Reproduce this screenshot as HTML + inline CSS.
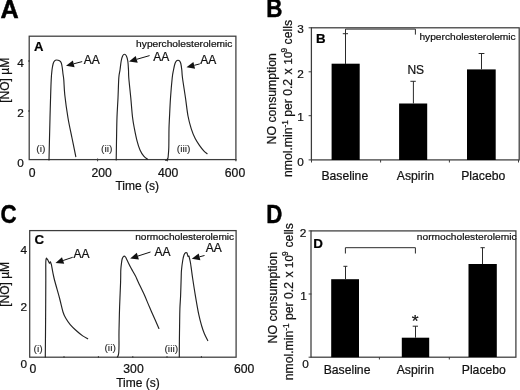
<!DOCTYPE html>
<html><head><meta charset="utf-8"><title>Figure</title>
<style>
html,body{margin:0;padding:0;background:#fff;}
body{width:520px;height:390px;overflow:hidden;font-family:"Liberation Sans", sans-serif;}
svg{display:block;font-family:"Liberation Sans", sans-serif;will-change:transform;}
text{stroke:#111;stroke-width:0.22px;}
text.big{stroke:#000;stroke-width:0.45px;}
text.rom{stroke:#2c2c2c;stroke-width:0.12px;}
</style></head><body>
<svg width="520" height="390" viewBox="0 0 520 390">
<rect x="0" y="0" width="520" height="390" fill="#fff"/>
<text transform="translate(0.6,17.7) scale(1.03,1.03)" class="big" font-size="24.5" font-weight="bold" fill="#000">A</text>
<text transform="translate(266.2,17.4) scale(0.915,1.03)" class="big" font-size="24.5" font-weight="bold" fill="#000">B</text>
<text transform="translate(0.45,222.5) scale(0.91,1.035)" class="big" font-size="24.5" font-weight="bold" fill="#000">C</text>
<text transform="translate(266.2,222.9) scale(0.91,1.02)" class="big" font-size="24.5" font-weight="bold" fill="#000">D</text>
<rect x="29.2" y="36.2" width="206.7" height="123.4" fill="none" stroke="#3c3c3c" stroke-width="1.25"/>
<text x="33.9" y="50.8" font-size="13.1" text-anchor="start" font-weight="bold" fill="#000" >A</text>
<text transform="translate(232.4,47.1) scale(1,0.95)" font-size="10.2" text-anchor="end" fill="#111">hypercholesterolemic</text>
<text x="23.9" y="67" font-size="11.8" text-anchor="end" font-weight="normal" fill="#111" >4</text>
<text x="23.9" y="116.8" font-size="11.8" text-anchor="end" font-weight="normal" fill="#111" >2</text>
<text x="23.9" y="166.5" font-size="11.8" text-anchor="end" font-weight="normal" fill="#111" >0</text>
<text x="32.1" y="176.8" font-size="12.2" text-anchor="middle" font-weight="normal" fill="#111" >0</text>
<text x="101.65" y="176.8" font-size="12.2" text-anchor="middle" font-weight="normal" fill="#111" >200</text>
<text x="168.1" y="176.8" font-size="12.2" text-anchor="middle" font-weight="normal" fill="#111" >400</text>
<text x="235" y="176.8" font-size="12.2" text-anchor="middle" font-weight="normal" fill="#111" >600</text>
<line x1="97.6" y1="158.5" x2="97.6" y2="161.3" stroke="#3c3c3c" stroke-width="1"/>
<line x1="167.4" y1="158.5" x2="167.4" y2="161.3" stroke="#3c3c3c" stroke-width="1"/>
<line x1="235.9" y1="159" x2="235.9" y2="161.3" stroke="#3c3c3c" stroke-width="1.25"/>
<line x1="28" y1="61" x2="30" y2="61" stroke="#3c3c3c" stroke-width="1"/>
<line x1="28" y1="111" x2="30" y2="111" stroke="#3c3c3c" stroke-width="1"/>
<text x="137.2" y="190" font-size="12" text-anchor="middle" font-weight="normal" fill="#111" >Time (s)</text>
<text transform="translate(9.2,80.3) rotate(-90)" font-size="12" text-anchor="middle" fill="#111">[NO] µM</text>
<path d="M49.00,160.00 C49.08,156.33 49.33,145.00 49.50,138.00 C49.67,131.00 49.83,124.33 50.00,118.00 C50.17,111.67 50.30,106.33 50.50,100.00 C50.70,93.67 50.95,85.00 51.20,80.00 C51.45,75.00 51.67,72.75 52.00,70.00 C52.33,67.25 52.77,65.03 53.20,63.50 C53.63,61.97 54.05,61.38 54.60,60.80 C55.15,60.22 55.68,60.00 56.50,60.00 C57.32,60.00 58.70,60.30 59.50,60.80 C60.30,61.30 60.83,61.80 61.30,63.00 C61.77,64.20 62.02,66.17 62.30,68.00 C62.58,69.83 62.75,72.00 63.00,74.00 C63.25,76.00 63.50,76.50 63.80,80.00 C64.10,83.50 64.10,88.67 64.80,95.00 C65.50,101.33 66.80,110.83 68.00,118.00 C69.20,125.17 70.70,131.55 72.00,138.00 C73.30,144.45 75.17,153.58 75.80,156.70" fill="none" stroke="#222" stroke-width="1.15" stroke-linejoin="round" stroke-linecap="round"/>
<path d="M116.20,160.00 C116.25,156.83 116.37,148.17 116.50,141.00 C116.63,133.83 116.75,124.17 117.00,117.00 C117.25,109.83 117.70,104.50 118.00,98.00 C118.30,91.50 118.47,82.67 118.80,78.00 C119.13,73.33 119.60,72.83 120.00,70.00 C120.40,67.17 120.77,63.33 121.20,61.00 C121.63,58.67 122.05,57.13 122.60,56.00 C123.15,54.87 123.87,54.20 124.50,54.20 C125.13,54.20 125.85,54.87 126.40,56.00 C126.95,57.13 127.45,58.67 127.80,61.00 C128.15,63.33 128.33,67.17 128.50,70.00 C128.67,72.83 128.42,73.33 128.80,78.00 C129.18,82.67 130.18,91.50 130.80,98.00 C131.42,104.50 131.90,111.90 132.50,117.00 C133.10,122.10 133.63,124.58 134.40,128.60 C135.17,132.62 136.17,137.53 137.10,141.10 C138.03,144.67 138.88,147.48 140.00,150.00 C141.12,152.52 142.53,154.65 143.80,156.20 C145.07,157.75 146.97,158.78 147.60,159.30" fill="none" stroke="#222" stroke-width="1.15" stroke-linejoin="round" stroke-linecap="round"/>
<path d="M165.70,160.30 C165.90,160.25 166.55,160.30 166.90,160.00 C167.25,159.70 167.58,159.13 167.80,158.50 C168.02,157.87 168.03,158.05 168.20,156.20 C168.37,154.35 168.67,152.00 168.80,147.40 C168.93,142.80 168.88,133.67 169.00,128.60 C169.12,123.53 169.25,122.10 169.50,117.00 C169.75,111.90 170.05,104.50 170.50,98.00 C170.95,91.50 171.70,82.67 172.20,78.00 C172.70,73.33 173.03,72.42 173.50,70.00 C173.97,67.58 174.50,65.03 175.00,63.50 C175.50,61.97 176.00,61.33 176.50,60.80 C177.00,60.27 177.50,60.30 178.00,60.30 C178.50,60.30 179.03,60.27 179.50,60.80 C179.97,61.33 180.42,61.97 180.80,63.50 C181.18,65.03 181.52,67.58 181.80,70.00 C182.08,72.42 181.88,73.33 182.50,78.00 C183.12,82.67 184.58,91.67 185.50,98.00 C186.42,104.33 187.05,110.90 188.00,116.00 C188.95,121.10 190.00,124.83 191.20,128.60 C192.40,132.37 193.73,135.67 195.20,138.60 C196.67,141.53 198.53,144.10 200.00,146.20 C201.47,148.30 202.82,149.95 204.00,151.20 C205.18,152.45 206.58,153.28 207.10,153.70" fill="none" stroke="#222" stroke-width="1.15" stroke-linejoin="round" stroke-linecap="round"/>
<text class="rom" transform="translate(40.9,151.5) scale(1,0.94)" font-size="10.4" text-anchor="middle" fill="#2c2c2c">(i)</text>
<text class="rom" transform="translate(106.75,151.5) scale(1,0.94)" font-size="10.4" text-anchor="middle" fill="#2c2c2c">(ii)</text>
<text class="rom" transform="translate(183.6,151.5) scale(1,0.94)" font-size="10.4" text-anchor="middle" fill="#2c2c2c">(iii)</text>
<text x="83.8" y="63.9" font-size="12" text-anchor="start" font-weight="normal" fill="#111" >AA</text>
<line x1="73.7" y1="63.8" x2="82.2" y2="61.6" stroke="#111" stroke-width="1"/>
<polygon points="66.0,65.8 74.6,67.2 72.9,60.4" fill="#111"/>
<text x="153.2" y="60.7" font-size="12" text-anchor="start" font-weight="normal" fill="#111" >AA</text>
<line x1="136.7" y1="59.3" x2="149.6" y2="55.6" stroke="#111" stroke-width="1"/>
<polygon points="129.0,61.5 137.7,62.7 135.7,55.9" fill="#111"/>
<text x="200.2" y="63.7" font-size="12" text-anchor="start" font-weight="normal" fill="#111" >AA</text>
<line x1="194.3" y1="65.3" x2="199.8" y2="63.9" stroke="#111" stroke-width="1"/>
<polygon points="186.5,67.2 195.1,68.7 193.4,61.9" fill="#111"/>
<rect x="311.4" y="27.8" width="207.8" height="132.1" fill="none" stroke="#3c3c3c" stroke-width="1.25"/>
<text x="315.9" y="42.5" font-size="13.3" text-anchor="start" font-weight="bold" fill="#000" >B</text>
<text transform="translate(515.7,39.6) scale(1,0.95)" font-size="10.2" text-anchor="end" fill="#111">hypercholesterolemic</text>
<text x="303.9" y="33.3" font-size="11.8" text-anchor="end" font-weight="normal" fill="#111" >3</text>
<text x="303.9" y="78.2" font-size="11.8" text-anchor="end" font-weight="normal" fill="#111" >2</text>
<text x="303.9" y="120.9" font-size="11.8" text-anchor="end" font-weight="normal" fill="#111" >1</text>
<text x="303.9" y="165.6" font-size="11.8" text-anchor="end" font-weight="normal" fill="#111" >0</text>
<line x1="308.6" y1="27.8" x2="312" y2="27.8" stroke="#3c3c3c" stroke-width="1"/>
<line x1="308.6" y1="71.8" x2="312" y2="71.8" stroke="#3c3c3c" stroke-width="1"/>
<line x1="308.6" y1="115.7" x2="312" y2="115.7" stroke="#3c3c3c" stroke-width="1"/>
<line x1="308.6" y1="159.9" x2="312" y2="159.9" stroke="#3c3c3c" stroke-width="1"/>
<line x1="311.5" y1="160" x2="311.5" y2="162.5" stroke="#3c3c3c" stroke-width="1"/>
<line x1="380.6" y1="160" x2="380.6" y2="162.5" stroke="#3c3c3c" stroke-width="1"/>
<line x1="449.4" y1="160" x2="449.4" y2="162.5" stroke="#3c3c3c" stroke-width="1"/>
<line x1="518.5" y1="160" x2="518.5" y2="162.5" stroke="#3c3c3c" stroke-width="1"/>
<rect x="331.6" y="63.7" width="28.1" height="96.3" fill="#000"/>
<rect x="399.1" y="103.5" width="28.1" height="56.5" fill="#000"/>
<rect x="467" y="69.4" width="28.7" height="90.6" fill="#000"/>
<path d="M345.5,64 V29.1 H415.4 V34.6 M342.8,33.7 H348" fill="none" stroke="#2a2a2a" stroke-width="1"/>
<path d="M413.4,103.5 V81.3 M410.4,81.3 H415.8" fill="none" stroke="#2a2a2a" stroke-width="1"/>
<path d="M481.5,69.4 V53.5 M478.6,53.5 H484.4" fill="none" stroke="#2a2a2a" stroke-width="1"/>
<text x="415.8" y="73.5" font-size="12" text-anchor="middle" font-weight="normal" fill="#111" >NS</text>
<text x="344.8" y="179.7" font-size="12.2" text-anchor="middle" font-weight="normal" fill="#111" >Baseline</text>
<text x="415.5" y="179.7" font-size="12.2" text-anchor="middle" font-weight="normal" fill="#111" >Aspirin</text>
<text x="483.2" y="179.7" font-size="12.2" text-anchor="middle" font-weight="normal" fill="#111" >Placebo</text>
<text transform="translate(275.5,144.4) rotate(-90)" font-size="12.25" text-anchor="start" fill="#111">NO consumption</text>
<text transform="translate(291.8,177.0) rotate(-90)" font-size="12.2" text-anchor="start" fill="#111">nmol.min<tspan font-size="8.3" dy="-4.1">-1</tspan><tspan dy="4.1"> per</tspan></text>
<text transform="translate(291.8,87.4) rotate(-90)" font-size="12.2" text-anchor="middle" fill="#111">0.2</text>
<text transform="translate(291.8,71.5) rotate(-90)" font-size="12.2" text-anchor="middle" fill="#111">x</text>
<text transform="translate(291.8,58.1) rotate(-90)" font-size="11.3" text-anchor="middle" fill="#111">10</text>
<text transform="translate(286.90000000000003,50.3) rotate(-90)" font-size="8.3" text-anchor="middle" fill="#111">9</text>
<text transform="translate(291.8,20.0) rotate(-90)" font-size="12.2" text-anchor="end" fill="#111">cells</text>
<rect x="29.7" y="230.6" width="206.4" height="126.6" fill="none" stroke="#3c3c3c" stroke-width="1.25"/>
<text x="34.4" y="243.6" font-size="13.3" text-anchor="start" font-weight="bold" fill="#000" >C</text>
<text transform="translate(234.2,240) scale(1,0.95)" font-size="10.15" text-anchor="end" fill="#111">normocholesterolemic</text>
<text x="27.15" y="253.5" font-size="11.8" text-anchor="end" font-weight="normal" fill="#111" >4</text>
<text x="27.15" y="310.8" font-size="11.8" text-anchor="end" font-weight="normal" fill="#111" >2</text>
<text x="27.15" y="367.5" font-size="11.8" text-anchor="end" font-weight="normal" fill="#111" >0</text>
<text x="32.8" y="373.1" font-size="12.2" text-anchor="middle" font-weight="normal" fill="#111" >0</text>
<text x="133.5" y="373.1" font-size="12.2" text-anchor="middle" font-weight="normal" fill="#111" >300</text>
<text x="244.1" y="373.1" font-size="12.2" text-anchor="middle" font-weight="normal" fill="#111" >600</text>
<line x1="64" y1="356" x2="64" y2="358" stroke="#3c3c3c" stroke-width="1"/>
<line x1="98.4" y1="356" x2="98.4" y2="358" stroke="#3c3c3c" stroke-width="1"/>
<line x1="132.8" y1="356" x2="132.8" y2="358" stroke="#3c3c3c" stroke-width="1"/>
<line x1="167" y1="356" x2="167" y2="358" stroke="#3c3c3c" stroke-width="1"/>
<line x1="201.4" y1="356" x2="201.4" y2="358" stroke="#3c3c3c" stroke-width="1"/>
<text x="138" y="387" font-size="12" text-anchor="middle" font-weight="normal" fill="#111" >Time (s)</text>
<text transform="translate(9.4,284.4) rotate(-90)" font-size="12" text-anchor="middle" fill="#111">[NO] µM</text>
<path d="M45.30,357.00 C45.35,350.83 45.52,332.83 45.60,320.00 C45.68,307.17 45.77,289.67 45.80,280.00 C45.83,270.33 45.70,265.67 45.80,262.00 C45.90,258.33 46.30,258.67 46.40,258.00 L47.6,259.6 L49.4,263.3 L50.4,261.8 L51.50,265.00 C51.92,267.17 52.67,272.50 54.00,278.00 C55.33,283.50 58.00,292.33 59.50,298.00 C61.00,303.67 61.95,308.62 63.00,312.00 C64.05,315.38 64.60,316.20 65.80,318.30 C67.00,320.40 68.43,322.52 70.20,324.60 C71.97,326.68 74.32,328.92 76.40,330.80 C78.48,332.68 80.82,334.57 82.70,335.90 C84.58,337.23 86.87,338.32 87.70,338.80" fill="none" stroke="#222" stroke-width="1.15" stroke-linejoin="round" stroke-linecap="round"/>
<path d="M117.30,357.00 C117.45,356.75 117.95,356.33 118.20,355.50 C118.45,354.67 118.67,353.75 118.80,352.00 C118.93,350.25 118.97,348.50 119.00,345.00 C119.03,341.50 118.90,337.33 119.00,331.00 C119.10,324.67 119.33,315.17 119.60,307.00 C119.87,298.83 120.40,288.17 120.60,282.00 C120.80,275.83 120.65,273.17 120.80,270.00 C120.95,266.83 121.25,264.92 121.50,263.00 C121.75,261.08 121.92,259.63 122.30,258.50 C122.68,257.37 123.27,256.45 123.80,256.20 C124.33,255.95 124.97,256.37 125.50,257.00 C126.03,257.63 126.08,258.17 127.00,260.00 C127.92,261.83 129.58,265.33 131.00,268.00 C132.42,270.67 134.30,273.67 135.50,276.00 C136.70,278.33 136.75,278.90 138.20,282.00 C139.65,285.10 142.32,290.42 144.20,294.60 C146.08,298.78 147.68,302.92 149.50,307.10 C151.32,311.28 153.53,316.13 155.10,319.70 C156.67,323.27 158.27,327.03 158.90,328.50" fill="none" stroke="#222" stroke-width="1.15" stroke-linejoin="round" stroke-linecap="round"/>
<path d="M179.30,357.00 C179.32,354.17 179.35,345.17 179.40,340.00 C179.45,334.83 179.52,331.27 179.60,326.00 C179.68,320.73 179.73,313.43 179.90,308.40 C180.07,303.37 180.38,301.03 180.60,295.80 C180.82,290.57 181.05,281.30 181.20,277.00 C181.35,272.70 181.23,272.83 181.50,270.00 C181.77,267.17 182.38,262.50 182.80,260.00 C183.22,257.50 183.55,256.20 184.00,255.00 C184.45,253.80 185.00,253.17 185.50,252.80 C186.00,252.43 186.75,252.80 187.00,252.80 L187.6,255 L188.1,256.6 L189,256 L189.50,258.50 C189.67,259.25 190.17,261.08 190.50,263.00 C190.83,264.92 191.15,267.50 191.50,270.00 C191.85,272.50 191.95,273.70 192.60,278.00 C193.25,282.30 194.37,289.68 195.40,295.80 C196.43,301.92 197.75,309.67 198.80,314.70 C199.85,319.73 200.78,322.87 201.70,326.00 C202.62,329.13 203.30,331.07 204.30,333.50 C205.30,335.93 207.13,339.42 207.70,340.60" fill="none" stroke="#222" stroke-width="1.15" stroke-linejoin="round" stroke-linecap="round"/>
<text class="rom" transform="translate(38.15,351.5) scale(1,0.94)" font-size="10.4" text-anchor="middle" fill="#2c2c2c">(i)</text>
<text class="rom" transform="translate(110.15,351.3) scale(1,0.94)" font-size="10.4" text-anchor="middle" fill="#2c2c2c">(ii)</text>
<text class="rom" transform="translate(171.3,351.6) scale(1,0.94)" font-size="10.4" text-anchor="middle" fill="#2c2c2c">(iii)</text>
<text x="73.5" y="258" font-size="12" text-anchor="start" font-weight="normal" fill="#111" >AA</text>
<line x1="63.1" y1="260.5" x2="72.7" y2="257.3" stroke="#111" stroke-width="1"/>
<polygon points="55.5,263.0 64.2,263.8 62.0,257.2" fill="#111"/>
<text x="154.5" y="255.8" font-size="12" text-anchor="start" font-weight="normal" fill="#111" >AA</text>
<line x1="137.8" y1="256.1" x2="150.5" y2="252.0" stroke="#111" stroke-width="1"/>
<polygon points="130.2,258.5 138.9,259.4 136.8,252.7" fill="#111"/>
<text x="205.8" y="251.7" font-size="12" text-anchor="start" font-weight="normal" fill="#111" >AA</text>
<line x1="199.5" y1="256.8" x2="204.5" y2="255.5" stroke="#111" stroke-width="1"/>
<polygon points="191.8,258.8 200.4,260.2 198.7,253.4" fill="#111"/>
<rect x="311.0" y="230.9" width="204.9" height="126.3" fill="none" stroke="#3c3c3c" stroke-width="1.25"/>
<text x="313.2" y="247.5" font-size="13.4" text-anchor="start" font-weight="bold" fill="#000" >D</text>
<text transform="translate(516.5,239.8) scale(1,0.95)" font-size="10.2" text-anchor="end" fill="#111">normocholesterolemic</text>
<text x="306.4" y="237.4" font-size="11.8" text-anchor="end" font-weight="normal" fill="#111" >2</text>
<text x="306.8" y="300" font-size="11.8" text-anchor="end" font-weight="normal" fill="#111" >1</text>
<text x="308.9" y="367.5" font-size="11.8" text-anchor="end" font-weight="normal" fill="#111" >0</text>
<line x1="379.4" y1="357" x2="379.4" y2="359.5" stroke="#3c3c3c" stroke-width="1"/>
<line x1="449.3" y1="357" x2="449.3" y2="359.5" stroke="#3c3c3c" stroke-width="1"/>
<line x1="308.6" y1="230.9" x2="311.5" y2="230.9" stroke="#3c3c3c" stroke-width="1"/>
<line x1="308.6" y1="294" x2="311.5" y2="294" stroke="#3c3c3c" stroke-width="1"/>
<line x1="308.6" y1="357.2" x2="311.5" y2="357.2" stroke="#3c3c3c" stroke-width="1"/>
<rect x="331.2" y="279.2" width="27.8" height="78" fill="#000"/>
<rect x="401.8" y="337.7" width="27.4" height="19.5" fill="#000"/>
<rect x="468.5" y="264" width="28.3" height="93" fill="#000"/>
<path d="M345.5,279.2 V266.3 M343.4,266.3 H347.4" fill="none" stroke="#2a2a2a" stroke-width="1"/>
<path d="M415.5,337.7 V326.2 M412.7,326.2 H418" fill="none" stroke="#2a2a2a" stroke-width="1"/>
<path d="M482.5,264 V247.7 M480.5,247.7 H484.8" fill="none" stroke="#2a2a2a" stroke-width="1"/>
<path d="M345.4,253.5 V247.7 H415.4 V253.5" fill="none" stroke="#2a2a2a" stroke-width="1"/>
<text transform="translate(415.05,327) scale(1.1,1)" font-size="16" text-anchor="middle" fill="#111">*</text>
<text x="347.05" y="373.7" font-size="12.2" text-anchor="middle" font-weight="normal" fill="#111" >Baseline</text>
<text x="415.3" y="373.7" font-size="12.2" text-anchor="middle" font-weight="normal" fill="#111" >Aspirin</text>
<text x="483.8" y="373.7" font-size="12.2" text-anchor="middle" font-weight="normal" fill="#111" >Placebo</text>
<text transform="translate(277.2,343.4) rotate(-90)" font-size="12.3" text-anchor="start" fill="#111">NO consumption</text>
<text transform="translate(293.0,380.2) rotate(-90)" font-size="12.2" text-anchor="start" fill="#111">nmol.min<tspan font-size="8.3" dy="-4.1">-1</tspan><tspan dy="4.1"> per</tspan></text>
<text transform="translate(293.0,290.5) rotate(-90)" font-size="12.2" text-anchor="middle" fill="#111">0.2</text>
<text transform="translate(293.0,274.5) rotate(-90)" font-size="12.2" text-anchor="middle" fill="#111">x</text>
<text transform="translate(293.0,261.6) rotate(-90)" font-size="11.3" text-anchor="middle" fill="#111">10</text>
<text transform="translate(288.1,253.8) rotate(-90)" font-size="8.3" text-anchor="middle" fill="#111">9</text>
<text transform="translate(293.0,223.1) rotate(-90)" font-size="12.2" text-anchor="end" fill="#111">cells</text>
</svg>
</body></html>
